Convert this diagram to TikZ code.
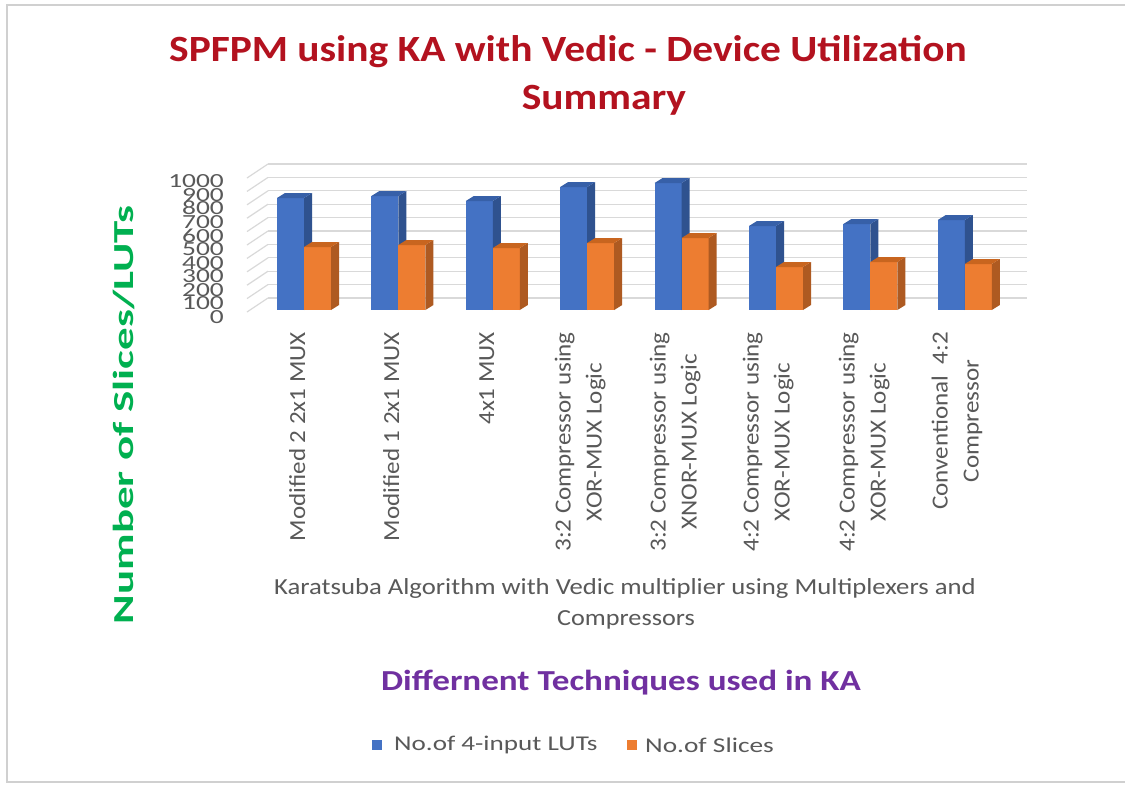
\documentclass[tikz,border=0pt]{standalone}
\usepackage{graphicx}
\usepackage{fontspec}
\setmainfont{Carlito}
\definecolor{blueF}{HTML}{4472C4}
\definecolor{blueS}{HTML}{2F528F}
\definecolor{blueT}{HTML}{3760A8}
\definecolor{orF}{HTML}{ED7D31}
\definecolor{orS}{HTML}{AE5A21}
\definecolor{orT}{HTML}{C8651F}
\definecolor{txt}{HTML}{595959}
\definecolor{gridc}{HTML}{D9D9D9}
\definecolor{ttl}{HTML}{B3121F}
\definecolor{ygr}{HTML}{00B050}
\definecolor{pur}{HTML}{7030A0}
\definecolor{frame}{HTML}{D0D0D0}
\newcommand\sx[2]{\scalebox{#1}[1]{#2}}
\newcommand\cat[1]{\sx{1.09}{\begin{tabular}{@{}c@{}}#1\end{tabular}}}
\tikzset{
  ylab/.style={anchor=east, inner sep=0pt, text=txt, font=\fontsize{20}{20}\selectfont},
  catlab/.style={rotate=90, anchor=east, inner sep=0pt, text=txt, font=\fontsize{23}{31}\selectfont},
  gridline/.style={draw=gridc, line width=1.2pt},
  plain/.style={inner sep=0pt, text=txt, font=\fontsize{23}{32}\selectfont},
  titlefont/.style={inner sep=0pt, text=ttl, font=\fontsize{37}{44}\bfseries\selectfont},
}
\begin{document}
\begin{tikzpicture}[x=1pt,y=-1pt]
\useasboundingbox (0,0) rectangle (1125,785);
\fill[white] (0,0) rectangle (1125,785);
% frame
\draw[frame, line width=2pt] (1125,5) -- (7,5) -- (7,782) -- (1125,782);
% title
\node[titlefont] (t1) at (568,52) {\sx{1.12}{SPFPM using KA with Vedic - Device Utilization}};
\node[titlefont] (t2) at (604,100) {\sx{1.12}{Summary}};
% walls
\foreach \k in {0,...,10} {
  \draw[gridline] (268,{298-13.4*\k}) -- (1027,{298-13.4*\k});
  \draw[gridline] (247,{312-13.4*\k}) -- (268,{298-13.4*\k});
}
% y labels
\foreach \k in {0,...,10} {
  \pgfmathtruncatemacro\v{100*\k}
  \node[ylab] (y\k) at (224,{317-13.6*\k}) {\sx{1.37}{\v}};
}
% bars
\foreach \i/\b/\o in {0/198/247,1/196/245,2/201/248,3/187/243,4/183/238,5/226/267,6/224/262,7/220/264} {
  \pgfmathsetmacro\xl{277+94.4*\i}
  \pgfmathsetmacro\xo{\xl+27}
  \fill[blueF] (\xl,310) rectangle ({\xl+27},\b);
  \fill[blueS] ({\xl+27},310) -- ({\xl+35},305) -- ({\xl+35},{\b-5}) -- ({\xl+27},\b) -- cycle;
  \fill[blueT] (\xl,\b) -- ({\xl+8},{\b-5}) -- ({\xl+35},{\b-5}) -- ({\xl+27},\b) -- cycle;
  \fill[orF] (\xo,310) rectangle ({\xo+27},\o);
  \fill[orS] ({\xo+27},310) -- ({\xo+35},305) -- ({\xo+35},{\o-5}) -- ({\xo+27},\o) -- cycle;
  \fill[orT] (\xo,\o) -- ({\xo+8},{\o-5}) -- ({\xo+35},{\o-5}) -- ({\xo+27},\o) -- cycle;
}
% category labels
\node[catlab] (c1) at (299,332) {\cat{Modified 2 2x1 MUX}};
\node[catlab] (c2) at (393,332) {\cat{Modified 1 2x1 MUX}};
\node[catlab] (c3) at (488,332) {\cat{4x1 MUX}};
\node[catlab] (c4) at (580,332) {\cat{3:2 Compressor using\\XOR-MUX Logic}};
\node[catlab] (c5) at (675,332) {\cat{3:2 Compressor using\\XNOR-MUX Logic}};
\node[catlab] (c6) at (768,332) {\cat{4:2 Compressor using\\XOR-MUX Logic}};
\node[catlab] (c7) at (864,332) {\cat{4:2 Compressor using\\XOR-MUX Logic}};
\node[catlab] (c8) at (957,332) {\cat{Conventional\ \ 4:2\\Compressor}};
% axis titles
\node[rotate=90, inner sep=0pt, text=ygr, font=\fontsize{29}{34}\bfseries\selectfont] (yt) at (124,415) {\sx{1.55}{Number of Slices/LUTs}};
\node[plain] (xt1) at (625,588) {\sx{1.16}{Karatsuba Algorithm with Vedic multiplier using Multiplexers and}};
\node[plain] (xt2) at (626,620) {\sx{1.14}{Compressors}};
\node[inner sep=0pt, text=pur, font=\fontsize{29}{34}\bfseries\selectfont] (dt) at (621,683) {\sx{1.21}{Differnent Techniques used in KA}};
% legend
\fill[blueF] (372,740) rectangle (382,750);
\node[plain, anchor=west, font=\fontsize{21}{24}\selectfont] (l1) at (394,745) {\sx{1.29}{No.of 4-input LUTs}};
\fill[orF] (627,740) rectangle (637,750);
\node[plain, anchor=west, font=\fontsize{21}{24}\selectfont] (l2) at (645,745) {\sx{1.3}{No.of Slices}};
\end{tikzpicture}
\end{document}
